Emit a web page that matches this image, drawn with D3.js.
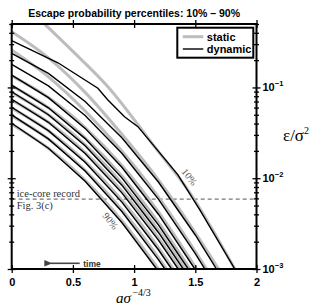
<!DOCTYPE html>
<html>
<head>
<meta charset="utf-8">
<script src="https://cdn.jsdelivr.net/npm/d3@7"></script>
<style>
  body { margin: 0; background: #fff; }
  svg { display: block; }
</style>
</head>
<body>
<div id="chart"></div>
<script>
// chart values
var xTicks = [0, 0.5, 1, 1.5, 2];
var xTickLabels = ["0", "0.5", "1", "1.5", "2"];
var yDecades = [0.001, 0.01, 0.1];
var yDecadeExp = ["\u22123", "\u22122", "\u22121"];
var iceCoreLevel = 0.0059;

// static escape-probability percentiles (gray)
var staticCurves = [
  [[0.269,0.5],[0.5,0.25],[0.786,0.102],[1.167,0.0223],[1.45,0.0071],[1.823,0.001]],
  [[0,0.411],[0.3,0.212],[0.6,0.0883],[0.9,0.0305],[1.2,0.00955],[1.5,0.00251],[1.69,0.001]],
  [[0,0.259],[0.3,0.131],[0.6,0.0551],[0.9,0.0199],[1.2,0.00615],[1.5,0.00156],[1.592,0.001]],
  [[0,0.134],[0.3,0.0773],[0.6,0.0362],[0.9,0.0138],[1.2,0.00423],[1.51,0.001]],
  [[0,0.104],[0.3,0.0597],[0.6,0.0279],[0.9,0.0106],[1.2,0.00324],[1.456,0.001]],
  [[0,0.0877],[0.3,0.0501],[0.6,0.0233],[0.9,0.00877],[1.2,0.00266],[1.415,0.001]],
  [[0,0.0724],[0.3,0.0413],[0.6,0.0192],[0.9,0.00723],[1.2,0.00219],[1.374,0.001]],
  [[0,0.0592],[0.3,0.0334],[0.6,0.0153],[0.9,0.00571],[1.2,0.00171],[1.32,0.001]],
  [[0,0.0486],[0.3,0.0271],[0.6,0.0122],[0.9,0.00451],[1.2,0.00133],[1.265,0.001]],
  [[0,0.0394],[0.3,0.0214],[0.6,0.00948],[0.9,0.0034],[1.198,0.001]]
];

// dynamic escape-probability percentiles (black)
var dynamicCurves = [
  [[0,0.327],[0.378,0.187],[0.704,0.098],[0.786,0.0728],[0.922,0.0476],[1.031,0.037],[1.167,0.0223],[1.358,0.0109],[1.537,0.00447],[1.823,0.001]],
  [[0,0.238],[0.3,0.143],[0.6,0.0701],[0.9,0.0279],[1.2,0.00902],[1.5,0.00237],[1.673,0.001]],
  [[0,0.180],[0.3,0.104],[0.6,0.0491],[0.9,0.0188],[1.2,0.00585],[1.5,0.00148],[1.578,0.001]],
  [[0,0.137],[0.3,0.0773],[0.6,0.0354],[0.9,0.0132],[1.2,0.00399],[1.496,0.001]],
  [[0,0.106],[0.3,0.0597],[0.6,0.0273],[0.9,0.0101],[1.2,0.00305],[1.442,0.001]],
  [[0,0.0897],[0.3,0.0501],[0.6,0.0228],[0.9,0.00838],[1.2,0.00251],[1.401,0.001]],
  [[0,0.0741],[0.3,0.0413],[0.6,0.0187],[0.9,0.0069],[1.2,0.00207],[1.36,0.001]],
  [[0,0.0605],[0.3,0.0334],[0.6,0.0150],[0.9,0.00546],[1.2,0.00162],[1.306,0.001]],
  [[0,0.0498],[0.3,0.0271],[0.6,0.0120],[0.9,0.0043],[1.2,0.00126],[1.251,0.001]],
  [[0,0.0403],[0.3,0.0214],[0.6,0.00927],[0.9,0.00325],[1.184,0.001]]
];

var margin = {top: 24, right: 62.5, bottom: 37, left: 11.7},
    W = 319, H = 306,
    width = W - margin.left - margin.right,
    height = H - margin.top - margin.bottom;

var svg = d3.select("#chart").append("svg")
    .attr("width", W)
    .attr("height", H);

var g = svg.append("g")
    .attr("transform", "translate(" + margin.left + "," + margin.top + ")");

var x = d3.scaleLinear().domain([0, 2]).range([0, width]);
var y = d3.scaleLog().domain([0.001, 0.5]).range([height, 0]);

g.append("clipPath").attr("id", "clip")
  .append("rect").attr("width", width).attr("height", height);

var plot = g.append("g").attr("clip-path", "url(#clip)");

// ice-core dashed line
plot.append("line")
    .attr("x1", 0).attr("x2", width)
    .attr("y1", y(iceCoreLevel)).attr("y2", y(iceCoreLevel))
    .attr("stroke", "#777").attr("stroke-width", 1.2)
    .attr("stroke-dasharray", "4,3");

var staticLine = d3.line()
    .x(d => x(d[0])).y(d => y(d[1]))
    .curve(d3.curveMonotoneX);
var dynLine = d3.line()
    .x(d => x(d[0])).y(d => y(d[1]));

plot.selectAll(".static")
  .data(staticCurves)
  .join("path")
    .attr("class", "static")
    .attr("d", staticLine)
    .attr("fill", "none")
    .attr("stroke", "#bdbdbd")
    .attr("stroke-width", 3);

plot.selectAll(".dyn")
  .data(dynamicCurves)
  .join("path")
    .attr("class", "dyn")
    .attr("d", dynLine)
    .attr("fill", "none")
    .attr("stroke", "#000")
    .attr("stroke-width", 1.4);

// annotations
var serif = "'Liberation Serif', 'DejaVu Serif', serif";
var sans = "'Liberation Sans', Arial, sans-serif";

g.append("text").attr("x", 5).attr("y", 172.5)
  .attr("font-family", serif).attr("font-size", 10.5).attr("fill", "#333")
  .text("ice-core record");
g.append("text").attr("x", 5).attr("y", 185)
  .attr("font-family", serif).attr("font-size", 10.5).attr("fill", "#333")
  .text("Fig. 3(c)");

g.append("text")
  .attr("transform", "translate(" + 96 + "," + 199 + ") rotate(52)")
  .attr("text-anchor", "middle")
  .attr("font-family", serif).attr("font-size", 10).attr("fill", "#555")
  .text("90%");
g.append("text")
  .attr("transform", "translate(" + 175 + "," + 155 + ") rotate(52)")
  .attr("text-anchor", "middle")
  .attr("font-family", serif).attr("font-size", 10).attr("fill", "#555")
  .text("10%");

// time arrow
var defs = svg.append("defs");
defs.append("marker").attr("id", "arr")
  .attr("viewBox", "0 0 10 10").attr("refX", 2).attr("refY", 5)
  .attr("markerWidth", 5).attr("markerHeight", 5).attr("orient", "auto")
  .append("path").attr("d", "M10,1 L0,5 L10,9 z").attr("fill", "#444");
g.append("line")
  .attr("x1", 68).attr("x2", 39).attr("y1", 239.3).attr("y2", 239.3)
  .attr("stroke", "#444").attr("stroke-width", 1.6)
  .attr("marker-end", "url(#arr)");
g.append("text").attr("x", 71.5).attr("y", 242.5)
  .attr("font-family", sans).attr("font-weight", "bold").attr("font-size", 8.5)
  .attr("fill", "#333").text("time");

// axes
var minorTicks = [];
[0.001, 0.01, 0.1].forEach(function(p) {
  for (var k = 1; k <= 9; k++) { if (p * k <= 0.5) minorTicks.push(p * k); }
});

function styleAxis(sel) {
  sel.select(".domain").remove();
  sel.selectAll(".tick line").attr("stroke", "#000").attr("stroke-width", 1.3);
}

var xb = g.append("g").attr("transform", "translate(0," + height + ")")
  .call(d3.axisBottom(x).tickValues(xTicks).tickFormat((d, i) => xTickLabels[i]).tickSize(0).tickPadding(9.5));
styleAxis(xb);
xb.selectAll(".tick line").attr("y1", -4).attr("y2", 4);
xb.selectAll("text").attr("font-family", sans).attr("font-weight", "bold").attr("font-size", 11).attr("fill", "#000");

var xt = g.append("g")
  .call(d3.axisTop(x).tickValues(xTicks).tickFormat("").tickSize(0));
styleAxis(xt);
xt.selectAll(".tick line").attr("y1", -4).attr("y2", 4);

[0, width].forEach(function(px) {
  var ax = g.append("g").attr("transform", "translate(" + px + ",0)")
    .call(d3.axisLeft(y).tickValues(minorTicks).tickFormat("").tickSize(0));
  styleAxis(ax);
  ax.selectAll(".tick line")
    .attr("x1", d => yDecades.indexOf(d) >= 0 ? -4 : -2.5)
    .attr("x2", d => yDecades.indexOf(d) >= 0 ? 4 : 2.5);
});

// right-side decade labels
yDecades.forEach(function(v, i) {
  var t = g.append("text").attr("x", width + 6).attr("y", y(v) + 4)
    .attr("font-family", sans).attr("font-weight", "bold").attr("font-size", 11);
  t.append("tspan").text("10");
  t.append("tspan").attr("dy", -5).attr("font-size", 7.5).text(yDecadeExp[i]);
});

// frame
g.append("rect").attr("width", width).attr("height", height)
  .attr("fill", "none").attr("stroke", "#000").attr("stroke-width", 2);

// legend
var lg = g.append("g").attr("transform", "translate(" + (177.3 - margin.left) + "," + (27.7 - margin.top) + ")");
lg.append("rect").attr("width", 76).attr("height", 30)
  .attr("fill", "#fff").attr("stroke", "#000").attr("stroke-width", 2);
lg.append("line").attr("x1", 5.5).attr("x2", 26).attr("y1", 9).attr("y2", 9)
  .attr("stroke", "#bdbdbd").attr("stroke-width", 3);
lg.append("line").attr("x1", 5.5).attr("x2", 26).attr("y1", 21.3).attr("y2", 21.3)
  .attr("stroke", "#000").attr("stroke-width", 1.4);
lg.append("text").attr("x", 29.5).attr("y", 13)
  .attr("font-family", sans).attr("font-weight", "bold").attr("font-size", 11).text("static");
lg.append("text").attr("x", 29.5).attr("y", 25.3)
  .attr("font-family", sans).attr("font-weight", "bold").attr("font-size", 11).text("dynamic");

// title
svg.append("text").attr("x", margin.left + width / 2).attr("y", 17)
  .attr("text-anchor", "middle")
  .attr("font-family", sans).attr("font-weight", "bold").attr("font-size", 10.5)
  .text("Escape probability percentiles: 10% \u2013 90%");

// x-axis label  a sigma^(-4/3)
var xl = svg.append("text").attr("x", 116).attr("y", 302.5)
  .attr("font-family", serif).attr("font-size", 15);
xl.append("tspan").attr("font-style", "italic").text("a\u03C3");
xl.append("tspan").attr("dx", 1.5).attr("dy", -6.5).attr("font-size", 10).text("\u22124/3");

// y-axis label  eps / sigma^2
var yl = svg.append("text").attr("x", 283).attr("y", 141)
  .attr("font-family", serif).attr("font-size", 17);
yl.append("tspan").text("\u03B5/\u03C3");
yl.append("tspan").attr("dy", -7).attr("font-size", 10).text("2");
</script>
</body>
</html>
